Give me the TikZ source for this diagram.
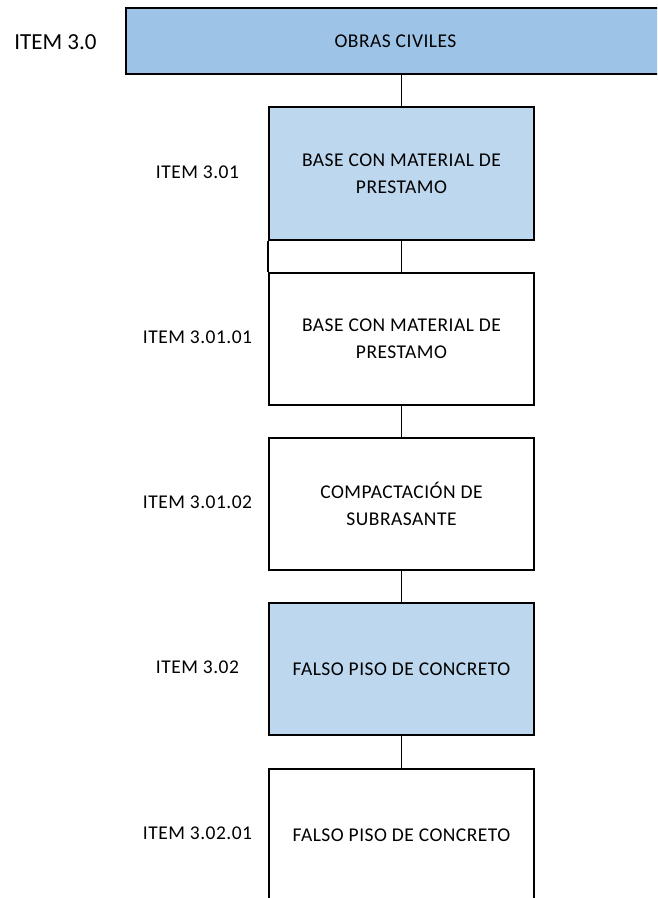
\documentclass[tikz,border=0pt]{standalone}
\usepackage{fontspec}
\setmainfont{Carlito}
\newfontfamily\spaced{Carlito}[LetterSpace=2.5]
\definecolor{topblue}{HTML}{9DC3E6}
\definecolor{lightblue}{HTML}{BDD7EE}
\begin{document}
\begin{tikzpicture}[x=1pt,y=-1pt,
  boxstyle/.style={draw=black,line width=1.7pt,minimum width=265pt,minimum height=132pt,
    align=center,inner sep=0pt,font=\spaced\fontsize{19.5}{27}\selectfont},
  itemlabel/.style={font=\spaced\fontsize{19.5}{22}\selectfont,inner sep=0pt},
  link/.style={line width=1.7pt}]
\useasboundingbox (0,0) rectangle (657,898);
\clip (0,0) rectangle (657,898);
\fill[white] (0,0) rectangle (657,898);
\node[draw=black,line width=1.7pt,fill=topblue,minimum width=554pt,minimum height=66pt,inner sep=0pt] (top) at (403,41) {};
\node[font=\spaced\fontsize{19.5}{22}\selectfont,inner sep=0pt] (toptext) at (395.5,41) {OBRAS CIVILES};
\node[font=\fontsize{23}{26}\selectfont,inner sep=0pt] (ltop) at (55.5,42) {ITEM 3.0};
\node[boxstyle,fill=lightblue,minimum height=133pt] (b1) at (401.5,173.5) {BASE CON MATERIAL DE\\PRESTAMO};
\node[boxstyle] (b2) at (401.5,339) {BASE CON MATERIAL DE\\PRESTAMO};
\node[boxstyle] (b3) at (401.5,504) {COMPACTACIÓN DE\\SUBRASANTE};
\node[boxstyle,fill=lightblue] (b4) at (401.5,669) {FALSO PISO DE CONCRETO};
\node[boxstyle] (b5) at (401.5,835) {FALSO PISO DE CONCRETO};
\node[itemlabel] (l1) at (197.5,172) {ITEM 3.01};
\node[itemlabel] (l2) at (197.5,337) {ITEM 3.01.01};
\node[itemlabel] (l3) at (197.5,502) {ITEM 3.01.02};
\node[itemlabel] (l4) at (197.5,667) {ITEM 3.02};
\node[itemlabel] (l5) at (197.5,833) {ITEM 3.02.01};
\draw[link] (top.south -| b1.north) -- (b1.north);
\draw[link] (b1.south) -- (b2.north);
\draw[link] (b1.south west) -- (b2.north west);
\draw[link] (b2.south) -- (b3.north);
\draw[link] (b3.south) -- (b4.north);
\draw[link] (b4.south) -- (b5.north);
\end{tikzpicture}
\end{document}
